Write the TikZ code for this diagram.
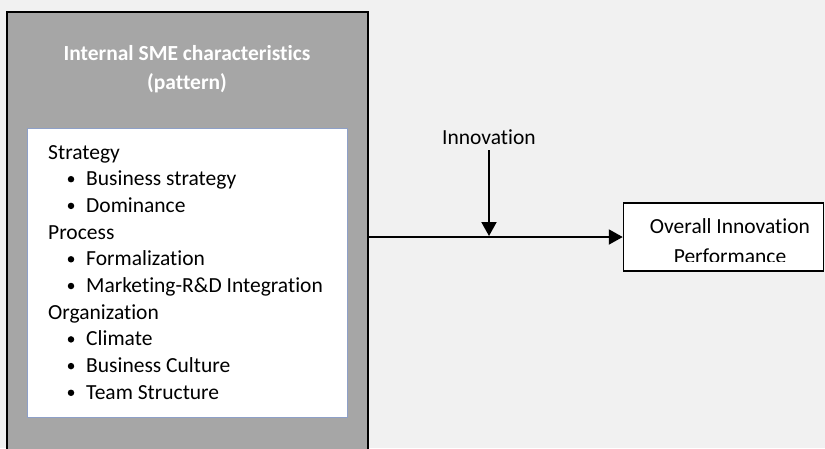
\documentclass[tikz,border=0pt]{standalone}
\usepackage{fontspec}
\setmainfont{Carlito}[Ligatures=NoCommon]
\usepackage{tikz}
\usetikzlibrary{positioning,calc,arrows.meta}

\definecolor{bgcol}{HTML}{F1F1F1}
\definecolor{boxgray}{HTML}{A6A6A6}
\definecolor{listedge}{HTML}{8EA0C8}

\begin{document}
\begin{tikzpicture}[x=1pt,y=-1pt,
    every node/.style={font=\fontsize{21.5}{26}\selectfont, inner sep=0pt},
    panel/.style={draw=black, line width=1.5pt, fill=boxgray},
    listbox/.style={draw=listedge, line width=0.8pt, fill=white},
    resultbox/.style={draw=black, line width=1.5pt, fill=white},
    title/.style={anchor=base, text=white, font=\bfseries\fontsize{21.5}{26}\selectfont},
    head/.style={anchor=base west},
    item/.style={anchor=base west},
    blt/.style={circle, fill=black, minimum size=6.5pt},
    link/.style={line width=2pt, -{Triangle[length=14pt,width=15pt]}}]

    \fill[bgcol] (0,0) rectangle (825,448);
    \useasboundingbox (0,0) rectangle (825,448);

    % left panel
    \node[panel, minimum width=361pt, minimum height=440pt] (charbox) at (187.5,232) {};
    \node[title] (ttl1) at (187,60) {Internal SME characteristics};
    \node[title] (ttl2) at (187,89) {(pattern)};
    \node[listbox, minimum width=320pt, minimum height=289pt] (list) at (187,272.5) {};

    \foreach \n/\y/\txt in {1/159/Strategy, 4/239.1/Process, 7/319.2/Organization}
        \node[head] (row\n) at (48,\y) {\txt};
    \foreach \n/\y/\txt in {2/185.7/Business strategy, 3/212.4/Dominance, 5/265.8/Formalization,
                            6/292.5/Marketing-R\&D Integration, 8/345.9/Climate,
                            9/372.6/Business Culture, 10/399.3/Team Structure} {
        \node[item] (row\n) at (86,\y) {\txt};
        \node[blt] (dot\n) at (71,\y-6.5) {};
    }

    % result
    \node[resultbox, minimum width=200pt, minimum height=68pt] (oip) at (723.5,237) {};
    \begin{scope}
        \clip (oip.north west) rectangle ($(oip.south east)+(0,-10)$);
        \node[anchor=base] (oip1) at (730,233) {Overall Innovation};
        \node[anchor=base] (oip2) at (730,263) {Performance};
    \end{scope}

    % moderator
    \node[anchor=base, outer sep=6pt] (innov) at (489,144) {Innovation};
    \coordinate (join) at (innov.south |- oip.west);

    \draw[link] (charbox.east |- oip.west) -- (oip.west);
    \draw[link] (innov.south) -- ($(join)+(0,-1)$);
\end{tikzpicture}
\end{document}
